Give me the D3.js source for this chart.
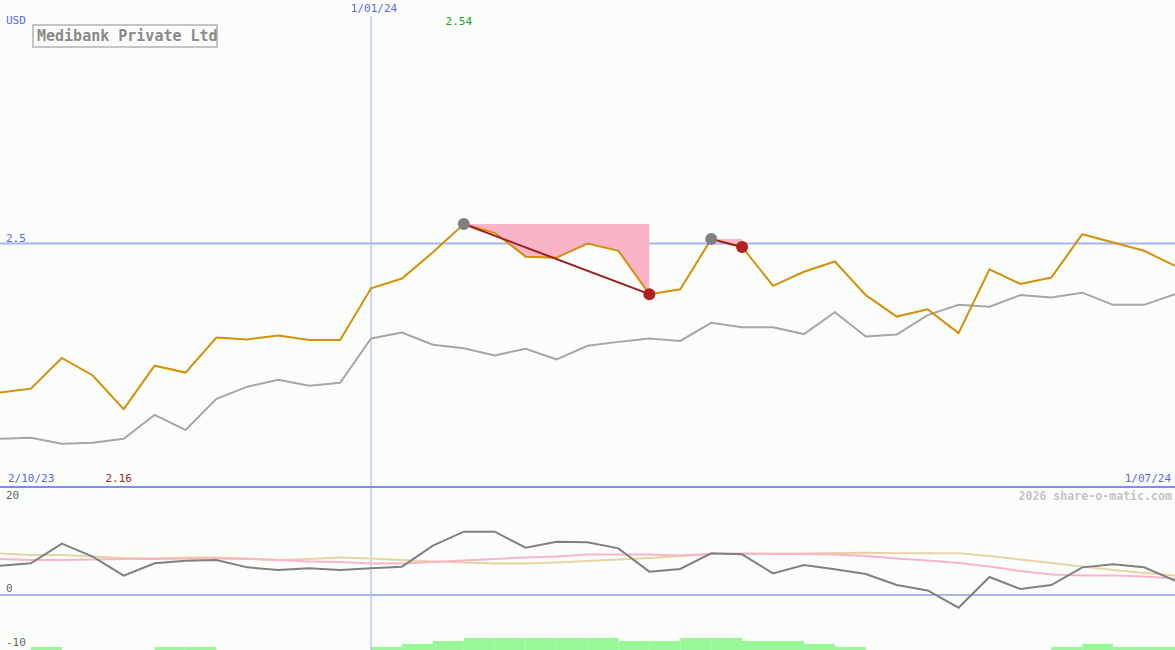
<!DOCTYPE html>
<html>
<head>
<meta charset="utf-8">
<script src="https://cdn.jsdelivr.net/npm/d3@7"></script>
<style>
html,body{margin:0;padding:0;background:#fbfdfa;overflow:hidden;}
svg{display:block;}
text{font-family:"DejaVu Sans Mono",monospace;}
</style>
</head>
<body>
<svg id="chart" width="1175" height="650"></svg>
<script>
// ---- data ----
const title = "Medibank Private Ltd";
const currency = "USD";
const dateLabels = ["2/10/23", "1/01/24", "1/07/24"];
const dateLabelIndex = [0, 12, 38];
const yearLineIndex = 12;
const priceRefLevel = 2.5;
const price = [2.194, 2.202, 2.265, 2.229, 2.16, 2.249, 2.235, 2.307, 2.303, 2.311,
  2.302, 2.302, 2.408, 2.428, 2.482, 2.54, 2.522, 2.473, 2.471, 2.500,
  2.485, 2.396, 2.406, 2.509, 2.493, 2.413, 2.442, 2.463, 2.394, 2.350,
  2.365, 2.316, 2.447, 2.417, 2.430, 2.519, 2.502, 2.485, 2.454];
const relative = [2.099, 2.101, 2.089, 2.091, 2.099, 2.148, 2.117, 2.181, 2.206, 2.220,
  2.208, 2.214, 2.305, 2.317, 2.292, 2.285, 2.270, 2.284, 2.262, 2.290,
  2.298, 2.305, 2.300, 2.337, 2.328, 2.328, 2.314, 2.359, 2.309, 2.313,
  2.353, 2.374, 2.370, 2.394, 2.389, 2.399, 2.374, 2.374, 2.396];
const drawdownPeaks = [15, 23];
const drawdownTroughs = [21, 24];
const maxLabel = "2.54", maxIndex = 15;
const minLabel = "2.16", minIndex = 4;
// lower panel
const lowerTicks = [20, 0, -10];
const momentum = [5.87, 6.33, 10.27, 7.67, 3.87, 6.33, 6.87, 7.0, 5.53, 5.0,
  5.33, 5.0, 5.33, 5.67, 9.87, 12.67, 12.67, 9.47, 10.67, 10.53,
  9.33, 4.67, 5.2, 8.33, 8.13, 4.33, 6.0, 5.13, 4.2, 2.0,
  0.9, -2.53, 3.6, 1.2, 2.0, 5.53, 6.13, 5.53, 2.87];
const pinkAvg = [7.2, 7.0, 7.0, 7.1, 7.2, 7.2, 7.3, 7.3, 7.2, 7.0,
  6.7, 6.6, 6.3, 6.3, 6.6, 6.9, 7.2, 7.5, 7.7, 8.1,
  8.1, 8.1, 7.9, 8.2, 8.3, 8.2, 8.2, 8.1, 7.8, 7.3,
  6.9, 6.4, 5.7, 4.8, 4.1, 3.9, 3.9, 3.7, 3.3];
const tanAvg = [8.3, 8.0, 8.0, 7.7, 7.4, 7.3, 7.5, 7.5, 7.3, 7.0,
  7.2, 7.5, 7.3, 7.0, 6.7, 6.5, 6.3, 6.3, 6.5, 6.8,
  7.1, 7.4, 7.8, 8.2, 8.2, 8.3, 8.3, 8.4, 8.45, 8.35,
  8.33, 8.33, 7.8, 7.1, 6.4, 5.7, 5.0, 4.4, 3.9];
const volumeLevel = [0, 1, 0, 0, 0, 1, 1, 0, 0, 0,
  0, 0, 1, 2, 3, 4, 4, 4, 4, 4,
  3, 3, 4, 4, 3, 3, 2, 1, 0, 0,
  0, 0, 0, 0, 1, 2, 1, 1];
const credit = "2026 share-o-matic.com";

// ---- scales ----
const W = 1175, H = 650;
const svg = d3.select("#chart");
const x = d3.scaleLinear().domain([0, price.length - 1]).range([0, W]);
const y = d3.scaleLinear().domain([2.0, 3.0]).range([487, 0]);
const yl = d3.scaleLinear().domain([-11, 20]).range([650, 495]);
const yv = d3.scaleLinear().domain([0, 4]).range([650, 638]);

// background
svg.append("rect").attr("width", W).attr("height", H).attr("fill", "#fbfdfa");

// volume bars
svg.append("g").selectAll("rect").data(volumeLevel).join("rect")
  .attr("x", (d, i) => x(i)).attr("width", (d, i) => x(i + 1) - x(i))
  .attr("y", d => yv(d)).attr("height", d => yv(0) - yv(d))
  .attr("fill", "#98f898");

// reference lines
svg.append("line").attr("x1", 0).attr("x2", W).attr("y1", y(priceRefLevel)).attr("y2", y(priceRefLevel))
  .attr("stroke", "#a6b4f2").attr("stroke-width", 2);
svg.append("line").attr("x1", x(yearLineIndex)).attr("x2", x(yearLineIndex)).attr("y1", 16).attr("y2", H)
  .attr("stroke", "#a0b0f2").attr("stroke-width", 1);
svg.append("line").attr("x1", 0).attr("x2", W).attr("y1", 487).attr("y2", 487)
  .attr("stroke", "#7c8cf0").attr("stroke-width", 2);
svg.append("line").attr("x1", 0).attr("x2", W).attr("y1", yl(0)).attr("y2", yl(0))
  .attr("stroke", "#a8b4ee").attr("stroke-width", 2);

// drawdown areas
drawdownPeaks.forEach((p, k) => {
  const t = drawdownTroughs[k];
  const top = price[p];
  const idx = d3.range(p, t + 1);
  const area = d3.area().x(i => x(i)).y0(() => y(top)).y1(i => y(price[i]));
  svg.append("path").attr("d", area(idx)).attr("fill", "#f9b4c8");
});

// lines
const line = d3.line().x((d, i) => x(i));
svg.append("path").attr("d", line.y(d => y(d))(relative))
  .attr("fill", "none").attr("stroke", "#a6a6a6").attr("stroke-width", 2);
svg.append("path").attr("d", line.y(d => y(d))(price))
  .attr("fill", "none").attr("stroke", "#d4900a").attr("stroke-width", 2);

// drawdown lines & points
drawdownPeaks.forEach((p, k) => {
  const t = drawdownTroughs[k];
  svg.append("line").attr("x1", x(p)).attr("y1", y(price[p])).attr("x2", x(t)).attr("y2", y(price[t]))
    .attr("stroke", "#a01c1c").attr("stroke-width", 2);
  svg.append("circle").attr("cx", x(p)).attr("cy", y(price[p])).attr("r", 6).attr("fill", "#808080");
  svg.append("circle").attr("cx", x(t)).attr("cy", y(price[t])).attr("r", 6).attr("fill", "#b02020");
});

// lower lines
svg.append("path").attr("d", line.y(d => yl(d))(tanAvg))
  .attr("fill", "none").attr("stroke", "#e8d4a2").attr("stroke-width", 2);
svg.append("path").attr("d", line.y(d => yl(d))(pinkAvg))
  .attr("fill", "none").attr("stroke", "#f9b4c8").attr("stroke-width", 2);
svg.append("path").attr("d", line.y(d => yl(d))(momentum))
  .attr("fill", "none").attr("stroke", "#808080").attr("stroke-width", 2);

// texts
const fs = 11;
svg.append("text").attr("x", 6).attr("y", 24).attr("font-size", fs).attr("fill", "#5566ee").text(currency);
svg.append("text").attr("x", 6).attr("y", y(priceRefLevel) - 2).attr("font-size", fs).attr("fill", "#5566ee").text(String(priceRefLevel));
dateLabels.forEach((lab, k) => {
  const i = dateLabelIndex[k];
  let t = svg.append("text").attr("font-size", fs).attr("fill", "#5566ee").text(lab);
  if (i === 0) t.attr("x", 8).attr("y", 482);
  else if (i === price.length - 1) t.attr("x", W - 4).attr("y", 482).attr("text-anchor", "end");
  else t.attr("x", x(i) + 3).attr("y", 12).attr("text-anchor", "middle");
});
svg.append("text").attr("x", x(maxIndex) - 5).attr("y", 25).attr("text-anchor", "middle")
  .attr("font-size", fs).attr("fill", "#20a020").text(maxLabel);
svg.append("text").attr("x", x(minIndex) - 5).attr("y", 482).attr("text-anchor", "middle")
  .attr("font-size", fs).attr("fill", "#a01c1c").text(minLabel);
svg.append("text").attr("x", W - 3).attr("y", 500).attr("text-anchor", "end")
  .attr("font-size", 11.6).attr("font-weight", "bold").attr("fill", "#c4c4c4").text(credit);
const tickY = {"20": 499, "0": 592, "-10": 646};
lowerTicks.forEach(v => {
  svg.append("text").attr("x", 6).attr("y", tickY[String(v)]).attr("font-size", fs)
    .attr("fill", "#666").text(String(v));
});

// title box
svg.append("rect").attr("x", 33).attr("y", 25).attr("width", 184).attr("height", 22)
  .attr("fill", "#fbfdfa").attr("stroke", "#c4c4c4").attr("stroke-width", 2);
svg.append("text").attr("x", 37).attr("y", 41).attr("font-size", 15).attr("font-weight", "bold")
  .attr("fill", "#8a8a8a").text(title);
</script>
</body>
</html>
